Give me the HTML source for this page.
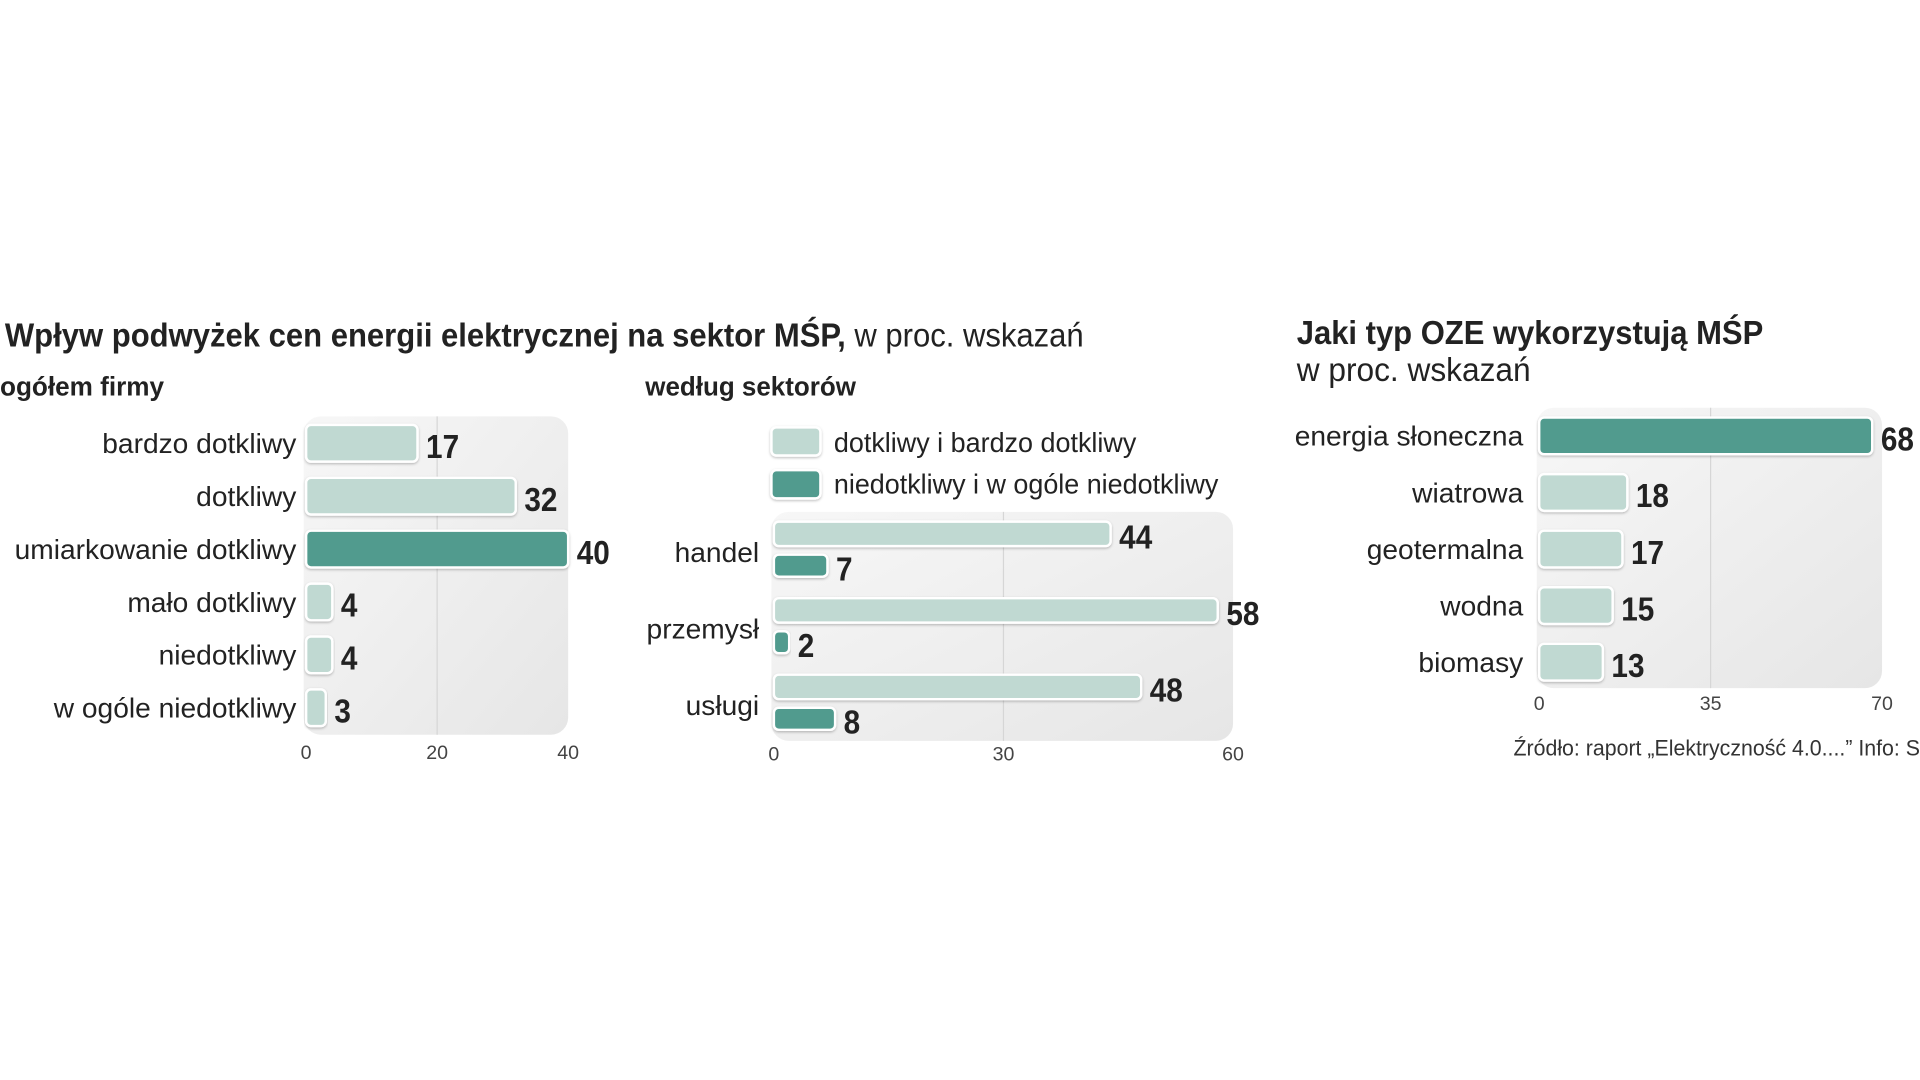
<!DOCTYPE html>
<html><head><meta charset="utf-8"><style>
html,body{margin:0;padding:0;background:#fff;width:1920px;height:1080px;overflow:hidden}
svg{display:block}
text{font-family:"Liberation Sans Narrow","Liberation Sans",sans-serif;fill:#222}
.lab{font-size:23px}
.val{font-size:27px;font-weight:bold}
.tick{font-size:16px;fill:#444}
.ttl{font-size:27px;font-weight:bold}
.sub{font-size:22px;font-weight:bold}
</style></head><body>
<svg id="chart" width="1920" height="1080" viewBox="0 0 1568 882" xmlns="http://www.w3.org/2000/svg">
<defs>
<linearGradient id="pg" x1="0" y1="0" x2="1" y2="1"><stop offset="0" stop-color="#f7f7f7"/><stop offset="1" stop-color="#e6e6e6"/></linearGradient>
<filter id="sh" x="-10%" y="-30%" width="120%" height="160%"><feDropShadow dx="0" dy="1" stdDeviation="1" flood-color="#000" flood-opacity="0.25"/></filter>
</defs>
<text x="4" y="283" class="ttl" textLength="881" lengthAdjust="spacingAndGlyphs">Wpływ podwyżek cen energii elektrycznej na sektor MŚP,<tspan font-weight="normal"> w proc. wskazań</tspan></text>
<text x="0" y="323" class="sub" textLength="134" lengthAdjust="spacingAndGlyphs">ogółem firmy</text>
<text x="527" y="323" class="sub" textLength="172" lengthAdjust="spacingAndGlyphs">według sektorów</text>
<text x="1059" y="281" class="ttl" textLength="381" lengthAdjust="spacingAndGlyphs">Jaki typ OZE wykorzystują MŚP</text>
<text x="1059" y="311" style="font-size:27px" textLength="191" lengthAdjust="spacingAndGlyphs">w proc. wskazań</text>
<rect x="630" y="349" width="40" height="23" rx="4" fill="#c0d9d2" stroke="#fff" stroke-width="2" filter="url(#sh)"/>
<text x="681" y="369" class="lab" textLength="247" lengthAdjust="spacingAndGlyphs">dotkliwy i bardzo dotkliwy</text>
<rect x="630" y="384" width="40" height="23" rx="4" fill="#519b8e" stroke="#fff" stroke-width="2" filter="url(#sh)"/>
<text x="681" y="403" class="lab" textLength="314" lengthAdjust="spacingAndGlyphs">niedotkliwy i w ogóle niedotkliwy</text>
<text x="1236" y="617" style="font-size:18px;fill:#333" textLength="332" lengthAdjust="spacingAndGlyphs">Źródło: raport „Elektryczność 4.0....”   Info: S</text>
<g id="g1"></g><g id="g2"></g><g id="g3"></g>
</svg>
<script>
const c1Cats=["bardzo dotkliwy","dotkliwy","umiarkowanie dotkliwy","mało dotkliwy","niedotkliwy","w ogóle niedotkliwy"];
const c1Vals=[17,32,40,4,4,3];
const c1Dark=[false,false,true,false,false,false];
const c1Ticks=[0,20,40];
const c2Cats=["handel","przemysł","usługi"];
const c2Light=[44,58,48];
const c2DarkVals=[7,2,8];
const c2Ticks=[0,30,60];
const c3Cats=["energia słoneczna","wiatrowa","geotermalna","wodna","biomasy"];
const c3Vals=[68,18,17,15,13];
const c3Dark=[true,false,false,false,false];
const c3Ticks=[0,35,70];
const NS="http://www.w3.org/2000/svg";
const LIGHT="#c0d9d2",DARK="#519b8e";
function mk(p,t,a,txt){const e=document.createElementNS(NS,t);for(const k in a)e.setAttribute(k,a[k]);if(txt!==undefined)e.textContent=txt;p.appendChild(e);return e;}
function panel(g,x0,x1,y0,y1,max,ticks,tickY,name){
  const sx=v=>x0+(v/max)*(x1-x0);
  const p=mk(g,"rect",{x:x0-2,y:y0,width:x1-x0+2,height:y1-y0,rx:14,fill:"url(#pg)"});
  
  
  ticks.forEach((t,i)=>{
    if(i>0&&i<ticks.length-1){const l=mk(g,"line",{x1:sx(t),x2:sx(t),y1:y0,y2:y1,stroke:"#d6d6d6","stroke-width":1});
      
      }
    const tx=mk(g,"text",{x:sx(t),y:tickY,"text-anchor":"middle",class:"tick"},t);
    
    
  });
  return sx;
}
function bar(g,sx,v,cy,h,col,name,vs){
  const w=Math.max(sx(v)-sx(0),4);
  const r=mk(g,"rect",{x:sx(0),y:cy-h/2,width:w,height:h,rx:4,fill:col,stroke:"#fff","stroke-width":2,filter:"url(#sh)"});
  
  
  const t=mk(g,"text",{x:sx(0)+w+7,y:cy+(vs||9),class:"val",textLength:String(v).length*13.5,lengthAdjust:"spacingAndGlyphs"},v);
  
  
}
function lab(g,x,y,s,name){const t=mk(g,"text",{x:x,y:y,"text-anchor":"end",class:"lab"},s);
  
  }
// chart 1
(function(){const g=document.getElementById("g1");
  const sx=panel(g,250,464,340,600,40,c1Ticks,620,"total");
  c1Cats.forEach((c,i)=>{const cy=362+i*43.2;lab(g,242,cy+8,c,"total-label");
    bar(g,sx,c1Vals[i],cy,30,c1Dark[i]?DARK:LIGHT,"total-bar",12);});})();
// chart 2
(function(){const g=document.getElementById("g2");
  const sx=panel(g,632,1007,418,605,60,c2Ticks,621,"sector");
  c2Cats.forEach((c,i)=>{const base=436+i*62.5;lab(g,620,base+23,c,"sector-label");
    bar(g,sx,c2Light[i],base,20,LIGHT,"sector-bar-light",12);
    bar(g,sx,c2DarkVals[i],base+26,18,DARK,"sector-bar-dark",12);});})();
// chart 3
(function(){const g=document.getElementById("g3");
  const sx=panel(g,1257,1537,333,562,70,c3Ticks,580,"oze");
  c3Cats.forEach((c,i)=>{const cy=356+i*46.2;lab(g,1244,cy+8,c,"oze-label");
    bar(g,sx,c3Vals[i],cy,30,c3Dark[i]?DARK:LIGHT,"oze-bar",12);});})();
</script>
</body></html>
